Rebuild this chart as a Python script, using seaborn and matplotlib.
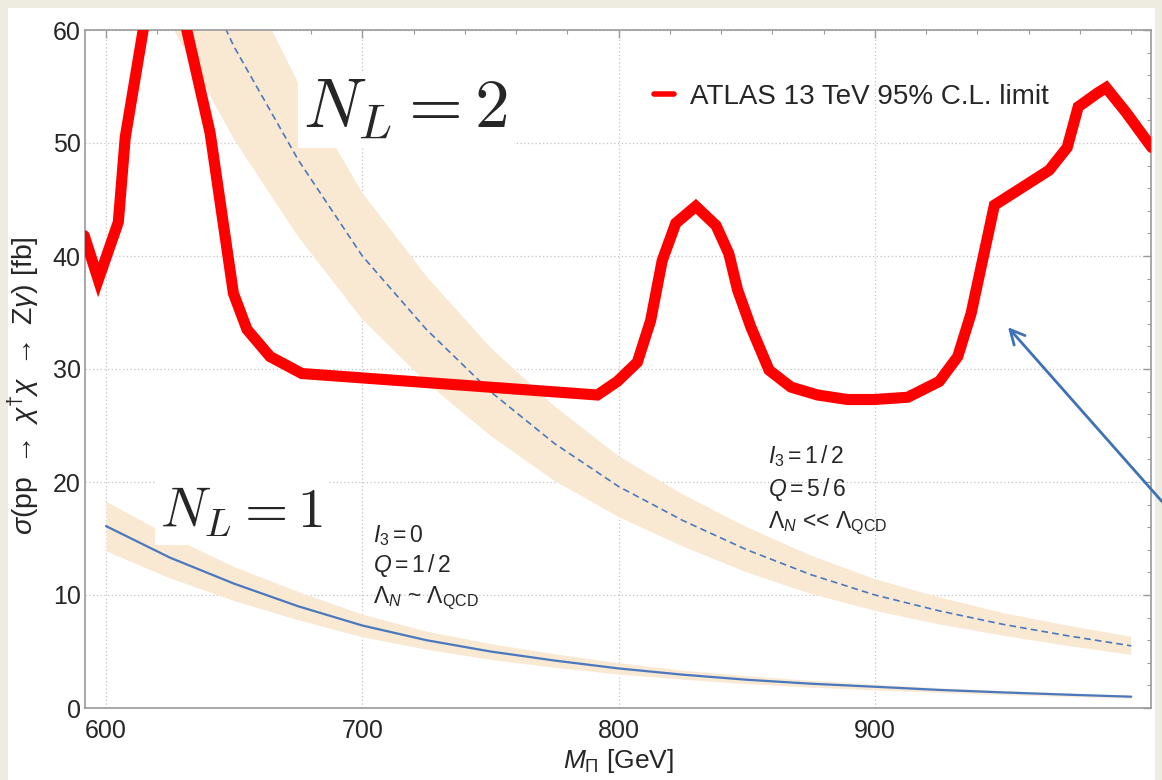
import numpy as np
import pandas as pd
import matplotlib
matplotlib.use("Agg")
import matplotlib.pyplot as plt
from matplotlib.patches import Rectangle
import seaborn as sns

# ATLAS 13 TeV 95% C.L. limit
atlas_mass = [591.5, 597, 604.8, 607.5, 614.5, 621.4, 631.5, 640.6, 649.7, 655, 664, 676.4,
              791.7, 799.5, 807.3, 812.5, 817, 822.3, 830.1, 838, 843, 846.4, 851.6, 858.7,
              867.2, 877.6, 889.3, 899.7, 912.8, 925.1, 932.3, 937.5, 946.6, 957, 968, 975,
              979.3, 986.7, 990.2, 998, 1008]
atlas_limit = [41.8, 37.9, 43.0, 50.5, 60.0, 69.4, 60.0, 50.9, 36.7, 33.5, 31.1, 29.6,
               27.7, 28.9, 30.6, 34.3, 39.6, 42.9, 44.4, 42.7, 40.2, 37.0, 33.7, 29.9,
               28.4, 27.7, 27.3, 27.3, 27.5, 28.9, 31.1, 34.9, 44.5, 46.0, 47.6, 49.6,
               53.2, 54.4, 54.9, 52.7, 49.6]

# theory curves
mass = [600, 625, 650, 675, 700, 725, 750, 775, 800, 825, 850, 875, 900, 925, 950, 975, 1000]
nl1_xsec = [16.1, 13.3, 11.0, 9.0, 7.3, 6.0, 5.0, 4.2, 3.5, 2.95, 2.5, 2.15, 1.88, 1.6, 1.38, 1.18, 1.0]
nl1_up = [18.3, 15.2, 12.5, 10.3, 8.3, 6.8, 5.7, 4.8, 4.0, 3.35, 2.85, 2.45, 2.1, 1.8, 1.55, 1.33, 1.13]
nl1_lo = [13.9, 11.5, 9.5, 7.8, 6.3, 5.2, 4.3, 3.6, 3.0, 2.55, 2.15, 1.85, 1.6, 1.38, 1.19, 1.02, 0.87]
nl2_xsec = [85.0, 70.5, 58.5, 48.5, 40.0, 33.5, 28.0, 23.4, 19.6, 16.6, 14.0, 11.8, 10.0, 8.6, 7.4, 6.4, 5.5]
nl2_up = [97.0, 80.4, 66.7, 55.3, 45.6, 38.2, 31.9, 26.7, 22.3, 18.9, 16.0, 13.5, 11.4, 9.8, 8.4, 7.3, 6.3]
nl2_lo = [73.1, 60.6, 50.3, 41.7, 34.4, 28.8, 24.1, 20.1, 16.9, 14.3, 12.0, 10.1, 8.6, 7.4, 6.4, 5.5, 4.7]

x_major = [600, 700, 800, 900]
y_major = [0, 10, 20, 30, 40, 50, 60]

red = "#FF0000"
blue = "#4A78BE"
band = "#F9E9D3"
cream = "#EEEBE0"
spine_col = "#9A9A9A"

sns.set_style("white")
plt.rcParams["font.family"] = ["Liberation Sans", "DejaVu Sans"]
plt.rcParams["mathtext.fontset"] = "custom"
plt.rcParams["mathtext.rm"] = "Liberation Sans"
plt.rcParams["mathtext.it"] = "Liberation Sans:italic"
plt.rcParams["mathtext.bf"] = "Liberation Sans:bold"

fig = plt.figure(figsize=(11.62, 7.8), dpi=100)
fig.patch.set_facecolor(cream)
fig.patches.append(Rectangle((8 / 1162, 0), (1155 - 8) / 1162, 1 - 8 / 780,
                             transform=fig.transFigure, facecolor="white",
                             edgecolor="none", zorder=-10))
ax = fig.add_axes([85 / 1162, 1 - 708 / 780, (1151 - 85) / 1162, (708 - 30) / 780])
ax.set_facecolor("white")

df_atlas = pd.DataFrame({"m": atlas_mass, "lim": atlas_limit})
df_th = pd.DataFrame({"m": mass, "nl1": nl1_xsec, "nl2": nl2_xsec})

# bands
ax.fill_between(mass, nl1_lo, nl1_up, color=band, lw=0, zorder=1)
ax.fill_between(mass, nl2_lo, nl2_up, color=band, lw=0, zorder=1)

sns.lineplot(data=df_th, x="m", y="nl1", ax=ax, color=blue, lw=1.6,
             estimator=None, zorder=2)
sns.lineplot(data=df_th, x="m", y="nl2", ax=ax, color=blue, lw=1.2,
             dashes=False, estimator=None, zorder=2, linestyle=(0, (4, 2.5)))
sns.lineplot(data=df_atlas, x="m", y="lim", ax=ax, color=red, lw=8,
             estimator=None, sort=False, zorder=3, label="ATLAS 13 TeV 95% C.L. limit",
             solid_joinstyle="miter")

ax.set_xlim(591.8, 1007.7)
ax.set_ylim(0, 60)
ax.set_xticks(x_major)
ax.set_xticks(np.arange(600, 1001, 20), minor=True)
ax.set_yticks(y_major)
ax.set_yticks(np.arange(0, 61, 2), minor=True)
ax.grid(True, which="major", color="#C4C4C4", ls=(0, (1, 2)), lw=0.9)
ax.set_axisbelow(True)
ax.tick_params(which="both", direction="in", top=True, right=True, color=spine_col,
               labelsize=18)
ax.tick_params(which="major", length=6, width=1.0)
ax.tick_params(which="minor", length=3, width=0.8)
ax.tick_params(axis="x", pad=8)
ax.tick_params(axis="y", pad=3)
for s in ax.spines.values():
    s.set_color(spine_col)
    s.set_linewidth(1.2)

ax.set_xlabel(r"$M_{\Pi}$ [GeV]", fontsize=19, labelpad=3)
ax.set_ylabel(r"$\sigma(\mathrm{pp}\ \rightarrow\ \chi^{\dagger}\chi\ \rightarrow\ \mathrm{Z}\gamma)$ [fb]",
              fontsize=20.5)
ax.yaxis.set_label_coords(-0.040, 0.475)

leg = ax.legend(loc="center left", bbox_to_anchor=(0.563, 0.8756),
                bbox_transform=fig.transFigure, frameon=False, fontsize=20,
                handlelength=0.7, handletextpad=0.6, borderpad=0, borderaxespad=0)
for ln in leg.get_lines():
    ln.set_linewidth(4)

# big labels with white boxes
ax.text(676.9, 51.3, r"$N_L = 2$", fontsize=50, math_fontfamily="cm",
        ha="left", va="baseline", zorder=1.5,
        bbox=dict(facecolor="white", edgecolor="none", pad=4))
ax.text(621.1, 16.0, r"$N_L = 1$", fontsize=40, math_fontfamily="cm",
        ha="left", va="baseline", zorder=1.5,
        bbox=dict(facecolor="white", edgecolor="none", pad=4))

# quantum numbers
ax.text(704.2, 14.7, r"$I_3 = 0$", fontsize=16.5, ha="left", va="baseline")
ax.text(704.2, 12.0, r"$Q = 1\,/\,2$", fontsize=16.5, ha="left", va="baseline")
ax.text(704.2, 9.3, r"$\Lambda_N$ ~ $\Lambda_{\mathrm{QCD}}$", fontsize=16.5, ha="left", va="baseline")
ax.text(858.3, 21.7, r"$I_3 = 1\,/\,2$", fontsize=16.5, ha="left", va="baseline")
ax.text(858.3, 18.8, r"$Q = 5\,/\,6$", fontsize=16.5, ha="left", va="baseline")
ax.text(858.3, 15.9, r"$\Lambda_N$ << $\Lambda_{\mathrm{QCD}}$", fontsize=16.5, ha="left", va="baseline")

# arrow coming from outside the frame
ax.annotate("", xy=(951.9, 33.7), xycoords="data", xytext=(1.0, 0.357),
            textcoords="figure fraction", annotation_clip=False,
            arrowprops=dict(arrowstyle="->", color="#3F72B5", lw=2,
                            mutation_scale=26, shrinkA=0, shrinkB=0))

fig.savefig("out.png", dpi=100, facecolor=fig.get_facecolor())
